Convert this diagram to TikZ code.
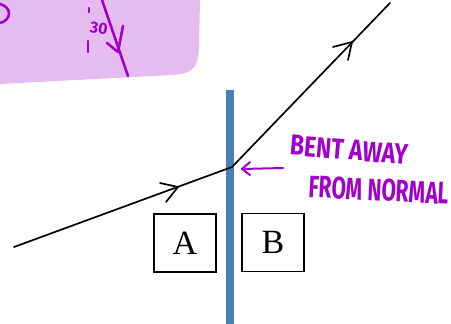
\documentclass[tikz,border=0pt]{standalone}
\usepackage{fontspec}
\setmainfont{Liberation Serif}
\newfontfamily\handfont{Fira Sans}
\usetikzlibrary{arrows.meta}
\definecolor{lilac}{RGB}{229,188,239}
\definecolor{pen}{RGB}{160,0,200}
\definecolor{barblue}{RGB}{74,126,187}
\tikzset{
  ray/.style={draw=black, line width=1.7pt, line cap=round},
  chev/.style={draw=black, line width=1.7pt, line cap=round, line join=round},
  penline/.style={draw=pen, line width=2.6pt, line cap=round, line join=round},
  letterbox/.style={draw=black, line width=1.6pt, minimum width=62pt, minimum height=58pt, inner sep=0pt, font=\fontsize{34}{38}\selectfont},
  handtext/.style={text=pen, inner sep=0pt, font=\handfont\bfseries}
}
\begin{document}
\begin{tikzpicture}[x=1pt, y=-1pt]
\useasboundingbox (0,0) rectangle (451,324);
% lilac note region
\fill[lilac] (0,0) -- (200,0) -- (199,48) .. controls (198,70) and (190,74) .. (172,75) -- (0,84) -- cycle;
% handwriting in the note
\draw[penline] (0,4) .. controls (12,7) and (12,20) .. (0,23);
\draw[penline] (102,0) -- (128,76);
\draw[penline] (107,43) -- (118,52) -- (123,26);
\node[handtext, rotate=-8, font=\handfont\bfseries\fontsize{16}{16}\selectfont] (thirty) at (99,28) {30};
\draw[penline] (89,8) -- (89,12);
\draw[penline] (88,41) -- (88,52);
% blue boundary
\node[fill=barblue, minimum width=8pt, minimum height=234pt, inner sep=0pt] (bar) at (230,207) {};
% rays
\coordinate (start) at (14,247);
\coordinate (hit) at (232,167);
\coordinate (finish) at (390,3);
\coordinate (ahead1) at (178,187);
\coordinate (ahead2) at (352,42);
\draw[ray] (start) -- (hit) -- (finish);
\draw[chev] (160,183) -- (ahead1) -- (166,202);
\draw[chev] (333,47) -- (ahead2) -- (348,60);
% boxes
\node[letterbox] (A) at (185,243) {A};
\node[letterbox] (B) at (273,242.5) {B};
% label
\node[handtext, rotate=-5] (bent) at (349,150) {\resizebox{118pt}{20pt}{BENT AWAY}};
\node[handtext, rotate=-3] (normal) at (379,190) {\resizebox{140pt}{22pt}{FROM NORMAL}};
\coordinate (lblstart) at (283,168);
\coordinate (lblend) at (242,169);
\draw[penline, line width=2pt] (lblstart) -- (lblend);
\draw[penline, line width=2pt] (250,162) -- (lblend) -- (250,175);
\end{tikzpicture}
\end{document}
